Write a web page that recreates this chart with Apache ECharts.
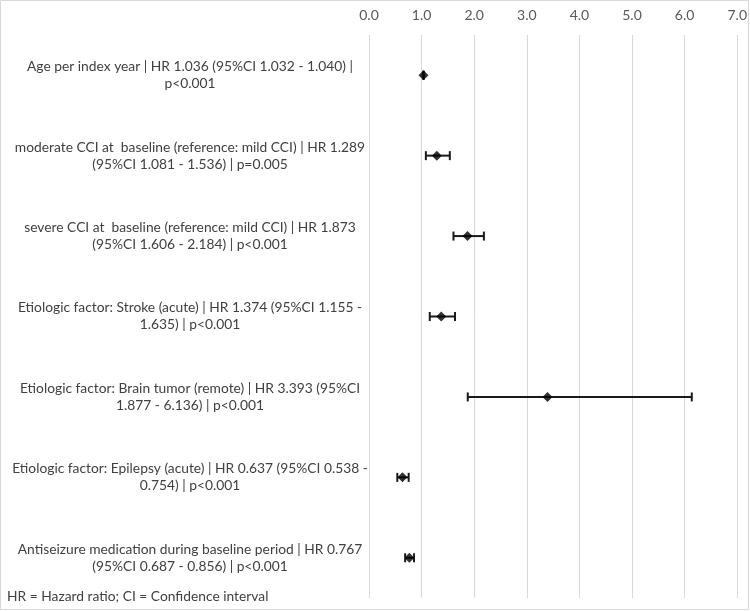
<!DOCTYPE html>
<html>
<head>
<meta charset="utf-8">
<script src="https://cdn.jsdelivr.net/npm/echarts@6/dist/echarts.min.js"></script>
<style>html,body{margin:0;padding:0;background:#fff;}#c{width:750px;height:611px;}</style>
</head>
<body>
<div id="c"></div>
<script>
const categories = [
  "Age per index year | HR 1.036 (95%CI 1.032 - 1.040) |\np<0.001",
  "moderate CCI at  baseline (reference: mild CCI) | HR 1.289\n(95%CI 1.081 - 1.536) | p=0.005",
  "severe CCI at  baseline (reference: mild CCI) | HR 1.873\n(95%CI 1.606 - 2.184) | p<0.001",
  "Etiologic factor: Stroke (acute) | HR 1.374 (95%CI 1.155 -\n1.635) | p<0.001",
  "Etiologic factor: Brain tumor (remote) | HR 3.393 (95%CI\n1.877 - 6.136) | p<0.001",
  "Etiologic factor: Epilepsy (acute) | HR 0.637 (95%CI 0.538 -\n0.754) | p<0.001",
  "Antiseizure medication during baseline period | HR 0.767\n(95%CI 0.687 - 0.856) | p<0.001"
];
const hr = [1.036, 1.289, 1.873, 1.374, 3.393, 0.637, 0.767];
const ciLow = [1.032, 1.081, 1.606, 1.155, 1.877, 0.538, 0.687];
const ciHigh = [1.040, 1.536, 2.184, 1.635, 6.136, 0.754, 0.856];
const footnote = "HR = Hazard ratio; CI = Confidence interval";

const chart = echarts.init(document.getElementById('c'), null, {renderer: 'canvas'});
const font = 'Lato, "Open Sans", sans-serif';

const errData = categories.map((c, i) => [i, ciLow[i], ciHigh[i]]);
const ptData = categories.map((c, i) => [hr[i], i]);

chart.setOption({
  animation: false,
  backgroundColor: '#fff',
  grid: {left: 369, right: 12, top: 35, bottom: 13},
  xAxis: {
    type: 'value', position: 'top', min: 0, max: 7, interval: 1,
    axisLine: {show: false}, axisTick: {show: false},
    axisLabel: {formatter: v => v.toFixed(1), color: '#595959', fontFamily: font, fontSize: 14, margin: 13},
    splitLine: {show: true, lineStyle: {color: '#d9d9d9', width: 1}}
  },
  yAxis: {
    type: 'category', data: categories, inverse: true,
    axisLine: {show: false}, axisTick: {show: false}, splitLine: {show: false},
    axisLabel: {align: 'center', margin: 179, color: '#404040', fontFamily: font, fontSize: 13.8, lineHeight: 17, padding: [7, 0, 0, 0], interval: 0}
  },
  series: [
    {
      type: 'custom',
      data: errData,
      renderItem: function (params, api) {
        const y = api.coord([0, api.value(0)])[1];
        const x1 = api.coord([api.value(1), 0])[0];
        const x2 = api.coord([api.value(2), 0])[0];
        const st = {stroke: '#1a1a1a', lineWidth: 2};
        return {type: 'group', children: [
          {type: 'line', shape: {x1: x1, y1: y, x2: x2, y2: y}, style: st},
          {type: 'line', shape: {x1: x1, y1: y - 4.5, x2: x1, y2: y + 4.5}, style: st},
          {type: 'line', shape: {x1: x2, y1: y - 4.5, x2: x2, y2: y + 4.5}, style: st}
        ]};
      },
      encode: {x: [1, 2], y: 0},
      z: 2
    },
    {
      type: 'scatter', data: ptData, symbol: 'diamond', symbolSize: 10,
      itemStyle: {color: '#000'}, z: 3
    }
  ],
  graphic: [
    {type: 'rect', shape: {x: 0.5, y: 0.5, width: 748, height: 609}, style: {fill: 'none', stroke: '#d9d9d9', lineWidth: 1}, silent: true},
    {type: 'text', left: 7, top: 590, style: {text: footnote, fill: '#404040', font: '13.8px ' + font}}
  ]
});
</script>
</body>
</html>
